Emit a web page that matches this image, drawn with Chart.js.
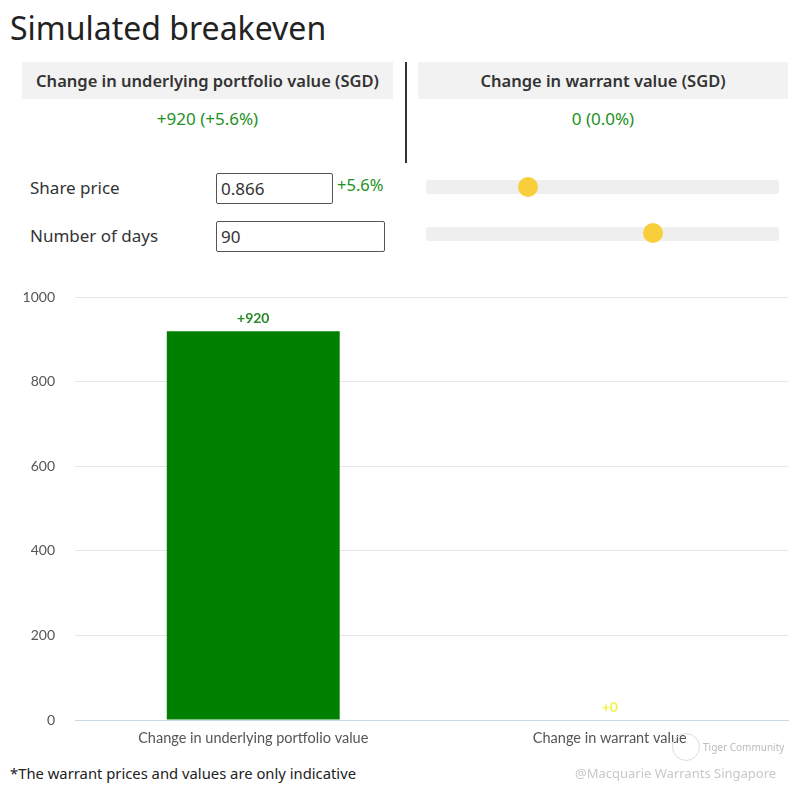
<!DOCTYPE html>
<html>
<head>
<meta charset="utf-8">
<script src="https://cdn.jsdelivr.net/npm/chart.js@4"></script>
<style>
  body { margin:0; width:800px; height:792px; background:#fff; font-family:"Noto Sans", sans-serif; color:#333; position:relative; overflow:hidden; }
  .abs { position:absolute; }
  h1 { position:absolute; left:10px; top:6px; margin:0; font-weight:400; font-size:32px; color:#222; }
  .head { position:absolute; top:62px; height:37px; background:#f2f2f2; font-size:16.5px; font-weight:600; text-align:center; line-height:37px; color:#333; }
  .val { position:absolute; top:107px; font-size:17px; color:#229122; text-align:center; }
  .lbl { position:absolute; left:30px; font-size:17px; color:#333; }
  .inp { position:absolute; left:216px; height:31px; border:1px solid #555; border-radius:2px; font-size:17px; line-height:29px; padding-left:4px; box-sizing:border-box; }
  .track { position:absolute; left:426px; width:353px; height:14px; background:#efefef; border-radius:3px; }
  .thumb { position:absolute; width:20px; height:20px; border-radius:50%; background:#f8cf3a; }
  #wrap { position:absolute; left:0; top:269px; width:800px; height:491px; }
</style>
</head>
<body>
<h1>Simulated breakeven</h1>
<div class="head" style="left:22px;width:371px;">Change in underlying portfolio value (SGD)</div>
<div class="head" style="left:418px;width:370px;">Change in warrant value (SGD)</div>
<div class="abs" style="left:405px;top:62px;width:2px;height:101px;background:#333;"></div>
<div class="val" style="left:22px;width:371px;">+920 (+5.6%)</div>
<div class="val" style="left:418px;width:370px;">0 (0.0%)</div>

<div class="lbl" style="top:176px;">Share price</div>
<div class="inp" style="top:173px;width:117px;">0.866</div>
<div class="abs" style="left:337px;top:173px;font-size:16.5px;color:#229122;">+5.6%</div>
<div class="track" style="top:180px;"></div>
<div class="thumb" style="left:518px;top:177px;"></div>

<div class="lbl" style="top:224px;">Number of days</div>
<div class="inp" style="top:221px;width:169px;">90</div>
<div class="track" style="top:227px;"></div>
<div class="thumb" style="left:643px;top:223px;"></div>

<div id="wrap"><canvas id="chart1"></canvas></div>

<div class="abs" style="left:10px;top:763px;font-size:14.8px;color:#222;">*The warrant prices and values are only indicative</div>
<div class="abs" style="left:672px;top:733px;width:26px;height:26px;border:1px solid #ddd;border-radius:50%;"></div>
<div class="abs" style="left:703px;top:740px;font-size:10px;color:#bbb;">Tiger Community</div>
<div class="abs" style="left:575px;top:764px;font-size:13px;color:#c8c8c8;">@Macquarie Warrants Singapore</div>

<script>
const categories = ['Change in underlying portfolio value', 'Change in warrant value'];
const changeValues = [920, 0];
const valueLabels = ['+920', '+0'];
const barColors = ['#008000', '#ffff33'];
const labelColors = ['#2a8a2a', '#f2f24a'];
const yTicks = [0, 200, 400, 600, 800, 1000];

// labels above each bar (no datalabels plugin available)
const barLabels = {
  id: 'barLabels',
  afterDatasetsDraw(chart) {
    const ctx = chart.ctx;
    const meta = chart.getDatasetMeta(0);
    ctx.save();
    ctx.font = 'bold 14px Lato, sans-serif';
    ctx.textAlign = 'center';
    ctx.textBaseline = 'bottom';
    meta.data.forEach((bar, i) => {
      ctx.fillStyle = labelColors[i];
      ctx.fillText(valueLabels[i], bar.x, bar.y - 6);
    });
    ctx.restore();
  }
};

new Chart(document.getElementById('chart1'), {
  type: 'bar',
  data: {
    labels: categories,
    datasets: [{
      data: changeValues,
      backgroundColor: barColors,
      categoryPercentage: 1,
      barPercentage: 0.485
    }]
  },
  options: {
    responsive: true,
    maintainAspectRatio: false,
    animation: false,
    layout: { padding: { top: 6, right: 12, left: 0, bottom: 0 } },
    plugins: { legend: { display: false }, tooltip: { enabled: false } },
    scales: {
      x: {
        grid: { display: false },
        border: { color: '#ccd6eb' },
        ticks: { color: '#555', font: { family: 'Lato, sans-serif', size: 14.5 }, padding: 2 },
        afterFit(scale) { scale.height = 40; }
      },
      y: {
        min: 0,
        max: 1000,
        afterBuildTicks(scale) { scale.ticks = yTicks.map(v => ({ value: v })); },
        grid: { color: '#e6e6e6', drawTicks: false },
        border: { display: false },
        ticks: { color: '#555', font: { family: 'Lato, sans-serif', size: 14 }, padding: 20, callback: v => String(v) },
        afterFit(scale) { scale.width = 75; }
      }
    }
  },
  plugins: [barLabels]
});
</script>
</body>
</html>
